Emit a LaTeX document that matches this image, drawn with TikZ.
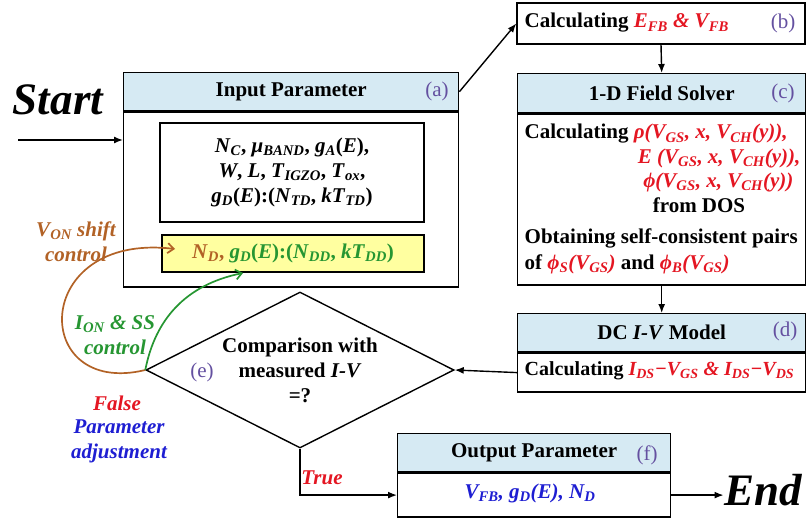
\documentclass[tikz,border=0pt]{standalone}
\usepackage{fontspec}
\setmainfont{Liberation Serif}
\usetikzlibrary{arrows.meta, positioning, shapes.geometric}
\definecolor{hdrblue}{RGB}{214,234,243}
\definecolor{tagpurple}{RGB}{100,80,160}
\definecolor{txtred}{RGB}{228,22,34}
\definecolor{txtblue}{RGB}{30,30,210}
\definecolor{txtbrown}{RGB}{178,98,38}
\definecolor{txtgreen}{RGB}{38,150,50}
\definecolor{padyellow}{RGB}{255,255,160}
\newcommand{\vsub}[2]{\textit{#1}\textsubscript{\textit{#2}}}

\begin{document}
\begin{tikzpicture}[x=1pt, y=-1pt, line width=1.4pt,
  font=\fontsize{21}{25}\selectfont\bfseries,
  every node/.style={inner sep=0pt},
  hdr/.style={draw, fill=hdrblue, anchor=north west, minimum height=38pt},
  bodybox/.style={draw, anchor=north},
  tag/.style={font=\fontsize{21}{25}\selectfont\mdseries, text=tagpurple},
  big/.style={font=\fontsize{45}{45}\selectfont\bfseries\itshape},
  emph/.style={font=\fontsize{21}{25}\selectfont\bfseries\itshape},
  flow/.style={-{Latex[length=9pt,width=7pt]}},
  curvearrow/.style={line width=1.7pt, -{Straight Barb[length=6pt,width=10pt]}}]
\useasboundingbox (0,0) rectangle (810,518);

\node[big] (start) at (58,100) {Start};
\coordinate (s0) at (18,140);

\node[hdr, minimum width=335pt] (ahd) at (123,72) {Input Parameter};
\node[bodybox, minimum width=335pt, minimum height=175pt] (abd) at (ahd.south) {};
\node[tag] (atag) at (437,91) {(a)};
\node[draw, minimum width=264pt, minimum height=99pt, align=center] (prm) at (292,172.5)
  {\vsub{N}{C}, \vsub{μ}{BAND}, \vsub{g}{A}(\textit{E}),\\
   \textit{W}, \textit{L}, \vsub{T}{IGZO}, \vsub{T}{ox},\\
   \vsub{g}{D}(\textit{E}):(\vsub{N}{TD}, \textit{k}\vsub{T}{TD})};
\node[draw, fill=padyellow, minimum width=262pt, minimum height=37pt] (yel) at (293,253.5)
  {{\color{txtbrown}\vsub{N}{D},} {\color{txtgreen}\vsub{g}{D}(\textit{E}):(\vsub{N}{DD}, \textit{k}\vsub{T}{DD})}};

\node[draw, minimum width=288pt, minimum height=41pt] (bbx) at (661,23.5) {};
\node[anchor=west] (btxt) at (524,23) {Calculating {\color{txtred}\itshape \vsub{E}{FB} \& \vsub{V}{FB}}};
\node[tag] (btag) at (783,23) {(b)};

\node[hdr, minimum width=288pt, minimum height=39pt] (chd) at (517,73) {1-D Field Solver};
\node[bodybox, minimum width=288pt, minimum height=171pt] (cbd) at (chd.south) {};
\node[tag] (ctag) at (783,93) {(c)};
\node[anchor=west] (c1) at (524,134) {Calculating {\color{txtred}\itshape ρ(\vsub{V}{GS}, x, \vsub{V}{CH}(y)),}};
\node[anchor=east, text=txtred, emph] (c2) at (801,158) {E (\vsub{V}{GS}, x, \vsub{V}{CH}(y)),};
\node[anchor=east, text=txtred, emph] (c3) at (794,182) {ϕ(\vsub{V}{GS}, x, \vsub{V}{CH}(y))};
\node (c4) at (699,205) {from DOS};
\node[anchor=west] (c5) at (524,238) {Obtaining self-consistent pairs};
\node[anchor=west] (c6) at (524,264) {of {\color{txtred}\itshape \vsub{ϕ}{S}(\vsub{V}{GS})} and {\color{txtred}\itshape \vsub{ϕ}{B}(\vsub{V}{GS})}};

\node[hdr, minimum width=288pt] (dhd) at (517,313) {DC \textit{I-V} Model};
\node[bodybox, minimum width=288pt, minimum height=39pt] (dbd) at (dhd.south) {};
\node[tag] (dtag) at (785,331) {(d)};
\node[anchor=west, font=\fontsize{20}{25}\selectfont\bfseries] (dtxt) at (524,371)
  {Calculating {\color{txtred}\itshape \vsub{I}{DS}−\vsub{V}{GS} \& \vsub{I}{DS}−\vsub{V}{DS}}};

\node[diamond, draw, aspect=2, minimum width=308pt, minimum height=156pt, align=center] (cmp) at (300,370)
  {Comparison with\\measured \textit{I-V}\\=?};
\node[tag] (etag) at (202,372) {(e)};

\node[hdr, minimum width=273pt] (fhd) at (397,433) {Output Parameter};
\node[bodybox, minimum width=273pt, minimum height=44pt] (fbd) at (fhd.south) {};
\node[tag] (ftag) at (647,455) {(f)};
\node[text=txtblue, emph] (fout) at (530,493) {\vsub{V}{FB}, \vsub{g}{D}(E), \vsub{N}{D}};
\node[big] (fin) at (763,490) {End};

\node[text=txtred, emph] (tru) at (322,478) {True};
\node[text=txtred, emph] (fls) at (117,403) {False};
\node[text=txtblue, emph, align=center] (adj) at (119,441) {Parameter\\adjustment};
\node[text=txtbrown, emph, align=center] (von) at (76,242) {\vsub{V}{ON} shift\\control};
\node[text=txtgreen, emph, align=center] (ion) at (115,335) {\vsub{I}{ON} \& SS\\control};

\coordinate (btip) at (175,249);
\coordinate (gtip) at (243,273);

\draw[flow] (s0) -- (abd.west |- s0);
\draw[flow] (ahd.east) -- (bbx.west);
\draw[flow] (bbx.south) -- (chd.north);
\draw[flow] (cbd.south) -- (dhd.north);
\draw[flow] (dbd.west) -- (cmp.east);
\draw[flow] (cmp.south) |- (fbd.west);
\draw[flow] (fbd.east) -- (fbd.east -| fin.west);
\draw[curvearrow, draw=txtbrown] (cmp.west) .. controls (30,398) and (30,232) .. (btip);
\draw[curvearrow, draw=txtgreen] (cmp.west) .. controls (155,320) and (185,285) .. (gtip);
\end{tikzpicture}
\end{document}
